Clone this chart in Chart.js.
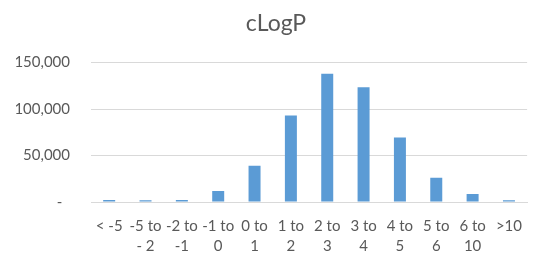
<!DOCTYPE html>
<html>
<head>
<meta charset="utf-8">
<script src="https://cdn.jsdelivr.net/npm/chart.js@4"></script>
<style>
    html, body { margin: 0; padding: 0; background: #fff; }
    #wrap { width: 536px; height: 253px; }
</style>
</head>
<body>
<div id="wrap"><canvas id="clogpChart"></canvas></div>
<script>
const categories = [
    ['< -5'], ['-5 to', '- 2'], ['-2 to', '-1'], ['-1 to', '0'], ['0 to', '1'], ['1 to', '2'],
    ['2 to', '3'], ['3 to', '4'], ['4 to', '5'], ['5 to', '6'], ['6 to', '10'], ['>10'],
];
const counts = [2100, 2000, 2100, 11800, 39000, 93200, 137900, 123600, 69300, 26100, 8600, 2000];
const yTicks = [0, 50000, 100000, 150000];

const textGrey = '#595959';
const gridGrey = '#d9d9d9';

new Chart(document.getElementById('clogpChart'), {
    type: 'bar',
    data: {
        labels: categories,
        datasets: [{
            data: counts,
            backgroundColor: '#5b9bd5',
            borderWidth: 0,
            barPercentage: 0.33,
            categoryPercentage: 1,
        }],
    },
    options: {
        responsive: true,
        maintainAspectRatio: false,
        animation: false,
        layout: { padding: { left: 16, right: 0, top: 0, bottom: 0 } },
        plugins: {
            legend: { display: false },
            tooltip: { enabled: false },
            title: {
                display: true,
                text: 'cLogP',
                color: textGrey,
                font: { family: 'Lato', size: 23, weight: 'normal' },
                padding: { top: 10, bottom: 25 },
            },
        },
        scales: {
            x: {
                grid: { display: false, drawTicks: false },
                border: { display: true, color: gridGrey },
                ticks: {
                    color: textGrey,
                    font: { family: 'Lato', size: 15, lineHeight: 1.33 },
                    maxRotation: 0,
                    autoSkip: false,
                    padding: 14,
                },
                afterFit: scale => { scale.height = 51; },
            },
            y: {
                min: 0,
                max: yTicks[yTicks.length - 1],
                afterBuildTicks: scale => { scale.ticks = yTicks.map(v => ({ value: v })); },
                grid: { color: gridGrey, drawTicks: false },
                border: { display: false },
                ticks: {
                    color: textGrey,
                    font: { family: 'Lato', size: 15 },
                    padding: 21,
                    // Excel accounting format: zero shows as a dash, set in from the right
                    callback: v => v === 0 ? '-  ' : v.toLocaleString('en-US'),
                },
                afterFit: scale => { scale.width = 75; },
            },
        },
    },
});
</script>
</body>
</html>
